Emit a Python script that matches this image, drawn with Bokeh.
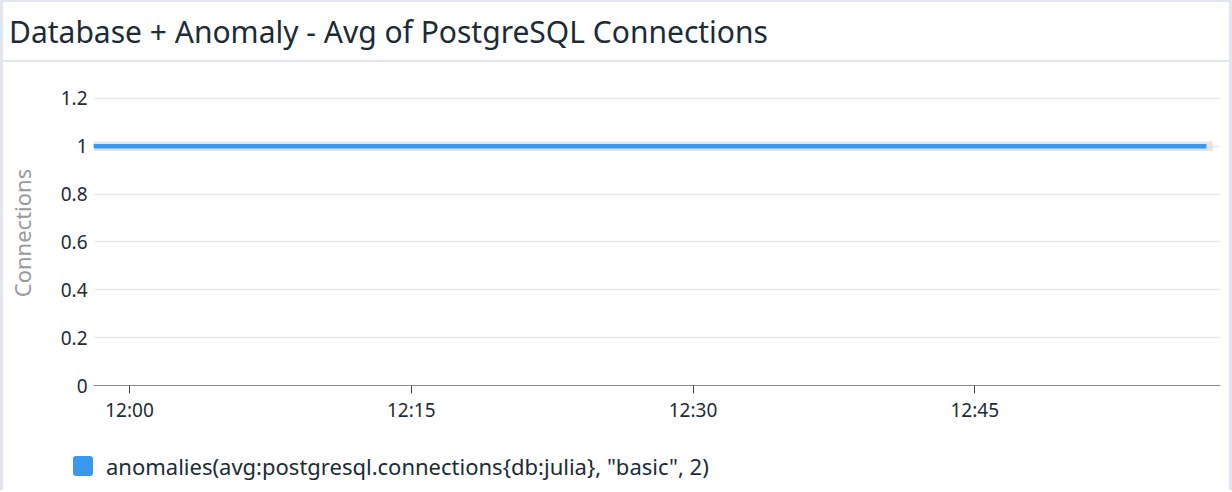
import pandas as pd
from bokeh.plotting import figure
from bokeh.models import ColumnDataSource, Range1d, FixedTicker, DatetimeTickFormatter, Div
from bokeh.layouts import column
from bokeh.embed import file_html
from bokeh.resources import INLINE

DAY = "2024-01-01 "
title_text = "Database + Anomaly - Avg of PostgreSQL Connections"
series_name = 'anomalies(avg:postgresql.connections{db:julia}, "basic", 2)'
y_label = "Connections"

times = ["11:58:05", "12:00:00", "12:05:00", "12:10:00", "12:15:00", "12:20:00",
         "12:25:00", "12:30:00", "12:35:00", "12:40:00", "12:45:00", "12:50:00",
         "12:55:00", "12:57:20"]
values = [1.0, 1.0, 1.0, 1.0, 1.0, 1.0, 1.0, 1.0, 1.0, 1.0, 1.0, 1.0, 1.0, 1.0]
band_times = ["11:58:05", "12:15:00", "12:30:00", "12:45:00", "12:57:40"]
band_upper = [1.02, 1.02, 1.02, 1.02, 1.02]
band_lower = [0.98, 0.98, 0.98, 0.98, 0.98]
tick_labels = ["12:00", "12:15", "12:30", "12:45"]
y_ticks = [0, 0.2, 0.4, 0.6, 0.8, 1, 1.2]
x_start, x_end = "11:58:05", "12:58:05"

FONT = "Noto Sans"
BORDER = "#e4e6ef"
TEXT = "#1c2b36"
BLUE = "#3a99ec"

t = pd.to_datetime([DAY + s for s in times])
bt = pd.to_datetime([DAY + s for s in band_times])
src = ColumnDataSource(dict(t=t, v=values))
bsrc = ColumnDataSource(dict(t=bt, up=band_upper, lo=band_lower))

def ms(s):
    return pd.Timestamp(DAY + s).value / 1e6

p = figure(width=1226, height=366, x_axis_type="datetime",
           output_backend="svg", toolbar_location=None,
           x_range=Range1d(ms(x_start), ms(x_end)), y_range=Range1d(0, 1.275),
           min_border_left=89, min_border_right=9, min_border_top=18, min_border_bottom=43,
           margin=0)
p.outline_line_color = None
p.background_fill_color = "white"
p.border_fill_color = "white"

p.varea(x="t", y1="lo", y2="up", source=bsrc, fill_color="#e3e3e3", fill_alpha=1)
p.line(x="t", y="v", source=src, line_color=BLUE, line_width=4.5)

p.xgrid.grid_line_color = None
p.ygrid.grid_line_color = "#e9e9e9"
p.ygrid.grid_line_width = 1.5

p.yaxis.ticker = FixedTicker(ticks=y_ticks)
p.yaxis.axis_line_color = None
p.yaxis.major_tick_line_color = None
p.yaxis.minor_tick_line_color = None
p.yaxis.major_tick_in = 0
p.yaxis.major_tick_out = 0
p.yaxis.minor_tick_out = 0
p.yaxis.major_label_text_font = FONT
p.yaxis.major_label_text_font_size = "19px"
p.yaxis.major_label_text_color = TEXT
p.yaxis.major_label_standoff = 6
p.yaxis.axis_label = y_label
p.yaxis.axis_label_text_font = FONT
p.yaxis.axis_label_text_font_size = "22px"
p.yaxis.axis_label_text_font_style = "normal"
p.yaxis.axis_label_text_color = "#9a9a9a"
p.yaxis.axis_label_standoff = 21

p.xaxis.ticker = FixedTicker(ticks=[ms(s + ":00") for s in tick_labels])
p.xaxis.formatter = DatetimeTickFormatter(minutes="%H:%M", hours="%H:%M", minsec="%H:%M")
p.xaxis.axis_line_color = "#8a8a8a"
p.xaxis.axis_line_width = 1.2
p.xaxis.major_tick_line_color = "#444444"
p.xaxis.major_tick_in = 0
p.xaxis.major_tick_out = 8
p.xaxis.minor_tick_line_color = None
p.xaxis.minor_tick_out = 0
p.xaxis.major_label_text_font = FONT
p.xaxis.major_label_text_font_size = "19px"
p.xaxis.major_label_text_color = TEXT
p.xaxis.major_label_standoff = 3

title = Div(text=title_text, width=1226, height=60, margin=0,
            styles={"font-family": FONT, "font-size": "30px", "color": TEXT,
                    "padding-left": "6px", "line-height": "60px",
                    "border-bottom": "2px solid " + BORDER, "box-sizing": "border-box",
                    "white-space": "nowrap"})

legend_html = ('<span style="display:inline-block;width:20px;height:20px;background:%s;'
               'border-radius:3px;vertical-align:middle;margin-right:13px;"></span>'
               '<span style="vertical-align:middle;">%s</span>') % (
                   BLUE, series_name.replace('"', "&quot;"))
legend_div = Div(text=legend_html, width=1226, height=62, margin=0,
                 styles={"font-family": FONT, "font-size": "22px", "color": TEXT,
                         "padding-left": "70px", "padding-top": "21px", "line-height": "28px",
                         "box-sizing": "border-box", "white-space": "nowrap"})

layout = column(title, p, legend_div, spacing=0, margin=0,
                styles={"border-left": "3px solid " + BORDER, "border-right": "3px solid " + BORDER,
                        "border-top": "2px solid " + BORDER, "background": "white"})

open("out.html", "w").write(file_html(layout, INLINE))
